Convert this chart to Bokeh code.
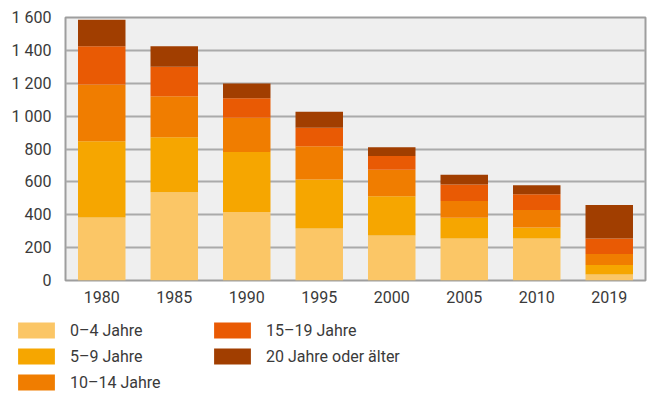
from bokeh.plotting import figure
from bokeh.layouts import column, row
from bokeh.models import Legend, LegendItem, FixedTicker, ColumnDataSource
from bokeh.embed import file_html
from bokeh.resources import INLINE

years = ["1980", "1985", "1990", "1995", "2000", "2005", "2010", "2019"]
age_0_4 = [384, 537, 417, 316, 274, 256, 256, 36]
age_5_9 = [463, 334, 364, 298, 239, 126, 66, 59]
age_10_14 = [346, 250, 209, 203, 161, 101, 107, 66]
age_15_19 = [232, 179, 119, 113, 83, 101, 96, 95]
age_20_plus = [161, 125, 90, 96, 54, 60, 54, 203]

series_labels = ["0–4 Jahre", "5–9 Jahre", "10–14 Jahre", "15–19 Jahre", "20 Jahre oder älter"]
series_colors = ["#FBC666", "#F6A600", "#F07D00", "#E95A04", "#A13E00"]
y_ticks = [0, 200, 400, 600, 800, 1000, 1200, 1400, 1600]
y_tick_labels = ["0", "200", "400", "600", "800", "1 000", "1 200", "1 400", "1 600"]

keys = ["a0", "a5", "a10", "a15", "a20"]
source = ColumnDataSource(dict(years=years, a0=age_0_4, a5=age_5_9, a10=age_10_14,
                               a15=age_15_19, a20=age_20_plus))

FONT = "Roboto"
TXT = "#3a3a3a"

chart = figure(x_range=years, y_range=(0, 1600), width=647, height=312,
               output_backend="svg", toolbar_location=None,
               min_border_left=65, min_border_right=2, min_border_top=17, min_border_bottom=32)

chart.vbar_stack(keys, x="years", width=0.655, fill_color=series_colors,
                 line_color=None, source=source)

chart.background_fill_color = "#EFEFEF"
chart.border_fill_color = "white"
chart.outline_line_color = "#9E9E9E"
chart.outline_line_width = 2

chart.xgrid.grid_line_color = None
chart.ygrid.grid_line_color = "#AAAAAA"
chart.ygrid.grid_line_width = 2
chart.ygrid.ticker = FixedTicker(ticks=y_ticks)

chart.yaxis.ticker = FixedTicker(ticks=y_ticks)
chart.yaxis.major_label_overrides = {t: l for t, l in zip(y_ticks, y_tick_labels)}

for ax in (chart.xaxis[0], chart.yaxis[0]):
    ax.axis_line_color = None
    ax.major_tick_line_color = None
    ax.minor_tick_line_color = None
    ax.major_tick_out = 0
    ax.major_tick_in = 0
    ax.major_label_text_font = FONT
    ax.major_label_text_font_size = "16px"
    ax.major_label_text_color = TXT
chart.yaxis.major_label_standoff = 14
chart.xaxis.major_label_standoff = 10

# legend panel (swatch renderers sit outside the visible range; only the legend shows)
leg = figure(width=647, height=81, x_range=(0, 1), y_range=(0, 1),
             output_backend="svg", toolbar_location=None,
             x_axis_location=None, y_axis_location=None,
             min_border_left=0, min_border_right=0, min_border_top=0, min_border_bottom=0)
leg.grid.grid_line_color = None
leg.outline_line_color = None
leg_renderers = [leg.vbar(x=[5], top=[0.5], width=0.1, fill_color=c, line_color=None)
                 for c in series_colors]
items = [LegendItem(label=lab, renderers=[r]) for lab, r in zip(series_labels, leg_renderers)]
legend = Legend(items=items, location=(13, 1), orientation="vertical", nrows=3,
                glyph_width=46, glyph_height=20, label_height=20, spacing=6,
                label_standoff=11, label_width=133, padding=0, margin=0,
                border_line_color=None, background_fill_alpha=0,
                label_text_font=FONT, label_text_font_size="16px",
                label_text_color=TXT)
leg.add_layout(legend, "center")

p = column(chart, row(leg, spacing=0), spacing=0)

open("out.html", "w").write(file_html(p, INLINE))
